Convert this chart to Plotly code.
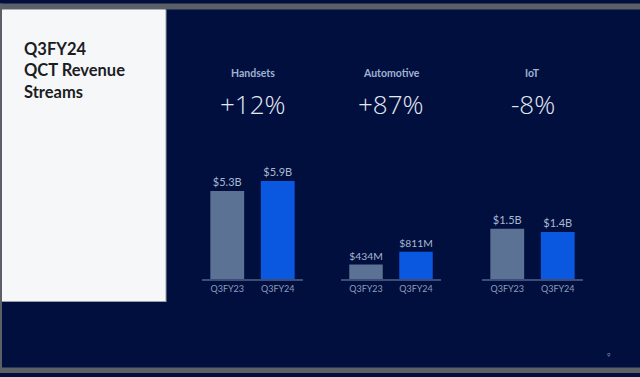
import plotly.graph_objects as go

W, H = 640, 377

categories = ["Handsets", "Automotive", "IoT"]
growth = ["+12%", "+87%", "-8%"]
periods = ["Q3FY23", "Q3FY24"]
values_b = [[5.3, 5.9], [0.434, 0.811], [1.5, 1.4]]
value_labels = [["$5.3B", "$5.9B"], ["$434M", "$811M"], ["$1.5B", "$1.4B"]]
title_lines = ["Q3FY24", "QCT Revenue", "Streams"]
page_number = "9"

NAVY = "#010f3f"
GRAY_BAR = "#5b7294"
BLUE_BAR = "#0a57e0"
LABEL_COL = "#a9b8d0"
TICK_COL = "#8d9dbb"
AXIS_COL = "#3c4d79"

def px_x(p):
    return p / W

def px_y(p):
    return 1 - p / H

# subplot domains in pixels (left, right)
x_doms = [(202, 303), (341, 441), (482, 583)]
y_dom = (px_y(279), px_y(150))
y_ranges = [7.77, 3.85, 3.85]

fig = go.Figure()
for i, cat in enumerate(categories):
    sfx = "" if i == 0 else str(i + 1)
    fig.add_trace(go.Bar(
        x=periods, y=values_b[i],
        text=value_labels[i], textposition="outside",
        outsidetextfont=dict(color=LABEL_COL, size=11, family="Lato"),
        marker=dict(color=[GRAY_BAR, BLUE_BAR], line=dict(width=0)),
        width=0.67, cliponaxis=False,
        xaxis="x" + sfx, yaxis="y" + sfx, showlegend=False,
        hoverinfo="skip",
    ))
    fig.layout["xaxis" + sfx] = dict(
        domain=[px_x(x_doms[i][0]), px_x(x_doms[i][1])],
        anchor="y" + sfx, showgrid=False, zeroline=False,
        showline=True, linecolor=AXIS_COL, linewidth=1.5,
        tickfont=dict(color=TICK_COL, size=9, family="Lato"),
        ticks="", fixedrange=True, range=[-0.5, 1.5],
    )
    fig.layout["yaxis" + sfx] = dict(
        domain=list(y_dom), anchor="x" + sfx, range=[0, y_ranges[i]],
        visible=False, fixedrange=True,
    )
    cx = px_x((x_doms[i][0] + x_doms[i][1]) / 2)
    fig.add_annotation(x=cx, y=px_y(73), xref="paper", yref="paper",
                       xanchor="center", yanchor="middle",
                       text="<b>" + cat + "</b>", showarrow=False,
                       font=dict(color="#9fb2d2", size=10.5, family="Lato"))
    fig.add_annotation(x=cx, y=px_y(104), xref="paper", yref="paper",
                       xanchor="center", yanchor="middle",
                       text=growth[i], showarrow=False,
                       font=dict(color="#e4e9f2", size=26, family="Open Sans", weight=300))

shapes = [
    # gray frame bands
    dict(type="rect", x0=0, x1=1, y0=px_y(3.5), y1=px_y(9.5), fillcolor="#5b5f66", line_width=0),
    dict(type="rect", x0=0, x1=px_x(2), y0=px_y(373), y1=px_y(3.5), fillcolor="#5b5f66", line_width=0),
    dict(type="rect", x0=0, x1=1, y0=px_y(373), y1=px_y(367.5), fillcolor="#5b5f66", line_width=0),
    # shadow of white panel
    dict(type="rect", x0=px_x(2), x1=px_x(166.5), y0=px_y(302), y1=px_y(9.5), fillcolor="#9a9ea6", line_width=0),
    # white panel
    dict(type="rect", x0=px_x(2), x1=px_x(165.5), y0=px_y(301), y1=px_y(9.5), fillcolor="#f6f7f9", line_width=0),
]
for s in shapes:
    s.update(xref="paper", yref="paper", layer="below")
fig.update_layout(shapes=shapes)

fig.add_annotation(x=px_x(22), y=px_y(70.5), xref="paper", yref="paper",
                   xanchor="left", yanchor="middle", align="left",
                   text="<br>".join("<b>" + t + "</b>" for t in title_lines),
                   showarrow=False,
                   font=dict(color="#1b1d22", size=16.5, family="Lato"))
fig.add_annotation(x=px_x(609), y=px_y(354), xref="paper", yref="paper",
                   xanchor="center", yanchor="middle",
                   text=page_number, showarrow=False,
                   font=dict(color="#7f8fb5", size=6, family="Lato"))

fig.update_layout(
    width=W, height=H, margin=dict(l=0, r=0, t=0, b=0),
    paper_bgcolor=NAVY, plot_bgcolor="rgba(0,0,0,0)",
    bargap=0.33,
)
fig.write_html("out.html", config={"displayModeBar": False},
               post_script="document.body.style.margin='0';document.body.style.background='" + NAVY + "';")
